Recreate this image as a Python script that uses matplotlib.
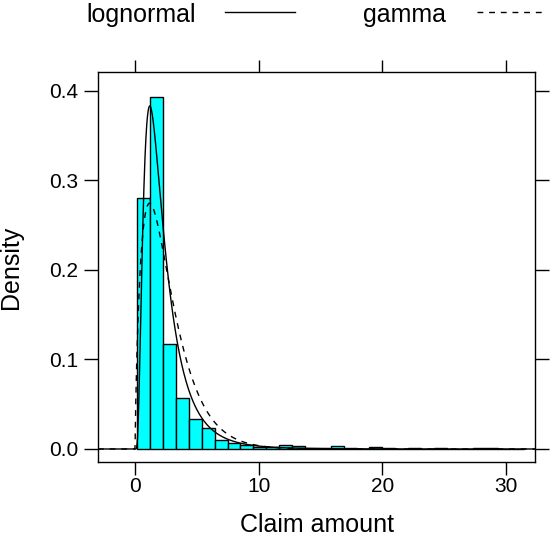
import numpy as np
import matplotlib
matplotlib.use("Agg")
import matplotlib.pyplot as plt
from matplotlib.lines import Line2D
from math import lgamma

# ---- data ----
bin_start = 0.186
bin_width = 1.043
bar_density = [0.280, 0.393, 0.117, 0.057, 0.033, 0.024, 0.0095, 0.0067,
               0.004, 0.0025, 0.002, 0.005, 0.003, 0.0015, 0.001, 0.003,
               0.001, 0.0005, 0.002, 0.001, 0.0003, 0.0008, 0.0003, 0.0008,
               0.0003, 0.0003, 0.0008, 0.0008, 0.0003, 0.0003]
lognormal_meanlog = 0.650
lognormal_sdlog = 0.69
gamma_shape = 1.8
gamma_rate = 0.68
xticks = [0, 10, 20, 30]
yticks = [0.0, 0.1, 0.2, 0.3, 0.4]
ytick_labels = ["0.0", "0.1", "0.2", "0.3", "0.4"]
legend_labels = ["lognormal", "gamma"]
x_label = "Claim amount"
y_label = "Density"
xlim = (-3.0, 32.36)

plt.rcParams["font.family"] = ["Liberation Sans", "DejaVu Sans"]

top_px, bottom_px, zero_px, ppu = 72, 462, 449, 895.75
ylim = ((zero_px - bottom_px) / ppu, (zero_px - top_px) / ppu)
dash = (0, (4.2, 4.2))

fig = plt.figure(figsize=(5.5, 5.6), dpi=100)
ax = fig.add_axes([98 / 550, 1 - bottom_px / 560, (535 - 98) / 550, (bottom_px - top_px) / 560])

edges = bin_start + bin_width * np.arange(len(bar_density) + 1)
ax.bar(edges[:-1], bar_density, width=bin_width, align="edge",
       facecolor="#00FFFF", edgecolor="black", linewidth=1.0, zorder=2)

x = np.linspace(xlim[0], xlim[1], 2000)
xp = np.where(x > 0, x, 1.0)
ln_pdf = np.where(x > 0,
                  np.exp(-(np.log(xp) - lognormal_meanlog) ** 2 / (2 * lognormal_sdlog ** 2))
                  / (xp * lognormal_sdlog * np.sqrt(2 * np.pi)), 0.0)
ga_pdf = np.where(x > 0,
                  np.exp(gamma_shape * np.log(gamma_rate) + (gamma_shape - 1) * np.log(xp)
                         - gamma_rate * xp - lgamma(gamma_shape)), 0.0)
ax.plot(x, ln_pdf, color="black", linewidth=1.0, zorder=3)
ax.plot(x, ga_pdf, color="black", linewidth=1.0, linestyle=dash, zorder=3)

ax.set_xlim(*xlim)
ax.set_ylim(*ylim)
ax.set_xticks(xticks)
ax.set_yticks(yticks)
ax.set_yticklabels(ytick_labels)
ax.tick_params(direction="out", length=10, width=1.0, top=True, right=True,
               labeltop=False, labelright=False, labelsize=15, pad=4)
ax.tick_params(axis="x", length=9, pad=2)
for s in ax.spines.values():
    s.set_linewidth(1.0)
ax.set_xlabel(x_label, fontsize=18, labelpad=12)
ax.set_ylabel(y_label, fontsize=18, labelpad=19)

# legend on top (lattice key style)
fig.text(141 / 550, 1 - 15 / 560, legend_labels[0], ha="center", va="center", fontsize=18)
fig.add_artist(Line2D([225 / 550, 295 / 550], [1 - 12 / 560, 1 - 12 / 560],
                      color="black", linewidth=1.0, transform=fig.transFigure))
fig.text(405 / 550, 1 - 15 / 560, legend_labels[1], ha="center", va="center", fontsize=18)
fig.add_artist(Line2D([477 / 550, 547 / 550], [1 - 12 / 560, 1 - 12 / 560],
                      color="black", linewidth=1.0, linestyle=dash,
                      transform=fig.transFigure))

fig.savefig("out.png", dpi=100)
